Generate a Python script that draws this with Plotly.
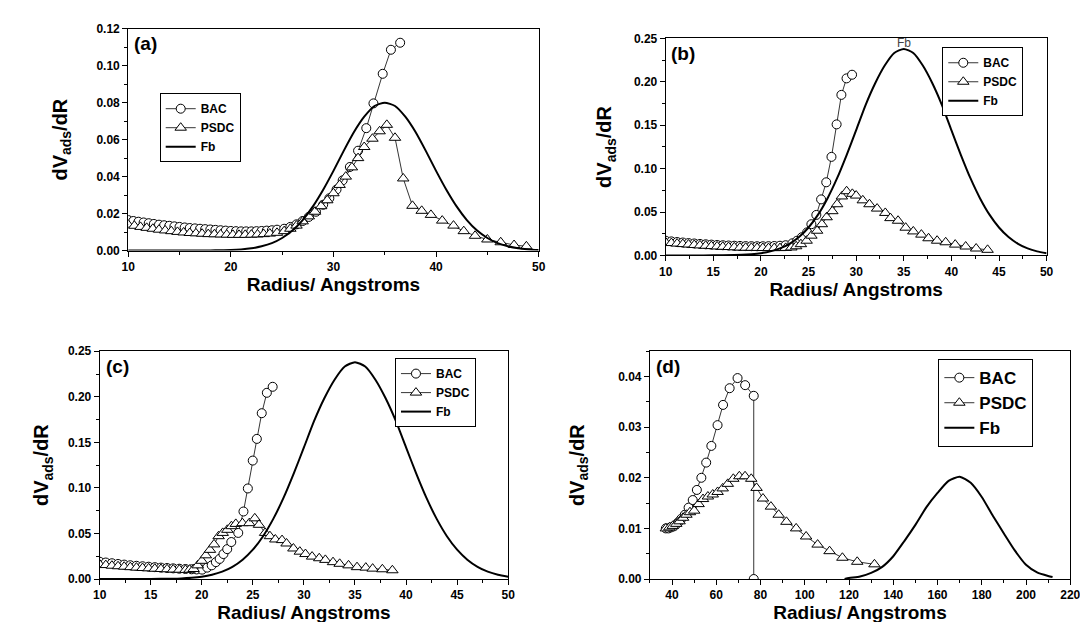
import plotly.graph_objects as go

# ---------------- Panel (a) ----------------
a_bac_x = [10.0, 10.5, 11.0, 11.5, 12.0, 12.5, 13.0, 13.5, 14.0, 14.5, 15.0, 15.5, 16.0, 16.5, 17.0, 17.5, 18.0,
           18.5, 19.0, 19.5, 20.0, 20.5, 21.0, 21.5, 22.0, 22.5, 23.0, 23.5, 24.0, 24.5, 25.2, 25.8, 26.4, 27.0,
           27.6, 28.3, 29.0, 29.6, 30.3, 30.9, 31.6, 32.4, 33.2, 33.9, 34.8, 35.6, 36.5]
a_bac_y = [0.0165, 0.0160, 0.0156, 0.0152, 0.0148, 0.0144, 0.0140, 0.0137, 0.0134, 0.0131, 0.0128, 0.0125, 0.0122,
           0.0120, 0.0118, 0.0116, 0.0114, 0.0112, 0.0110, 0.0108, 0.0106, 0.0105, 0.0104, 0.0104, 0.0104, 0.0105,
           0.0106, 0.0108, 0.0110, 0.0113, 0.0118, 0.0128, 0.0142, 0.0160, 0.0182, 0.0210, 0.0248, 0.0283, 0.0330,
           0.0380, 0.0452, 0.0540, 0.0662, 0.0796, 0.0956, 0.1086, 0.1124]
a_psdc_x = [10.0, 10.6, 11.2, 11.8, 12.4, 13.0, 13.6, 14.2, 14.8, 15.4, 16.0, 16.6, 17.2, 17.8, 18.4, 19.0, 19.6,
            20.2, 20.8, 21.4, 22.0, 22.6, 23.2, 23.8, 24.5, 25.2, 25.8, 26.4, 27.0, 27.6, 28.2, 28.8, 29.4, 30.0,
            30.6, 31.2, 31.8, 32.4, 33.0, 33.8, 34.5, 35.2, 36.0, 36.8, 37.7, 38.6, 39.5, 40.6, 41.7, 42.7, 43.8,
            45.0, 46.3, 47.6, 48.8]
a_psdc_y = [0.0140, 0.0134, 0.0128, 0.0123, 0.0118, 0.0113, 0.0109, 0.0105, 0.0101, 0.0098, 0.0095, 0.0093, 0.0091,
            0.0089, 0.0088, 0.0087, 0.0086, 0.0085, 0.0085, 0.0085, 0.0086, 0.0087, 0.0089, 0.0092, 0.0096, 0.0105,
            0.0118, 0.0135, 0.0158, 0.0185, 0.0210, 0.0240, 0.0272, 0.0310, 0.0355, 0.0400, 0.0450, 0.0500, 0.0560,
            0.0605, 0.0645, 0.0680, 0.0610, 0.0390, 0.0242, 0.0215, 0.0193, 0.0162, 0.0135, 0.0105, 0.0080, 0.0060,
            0.0045, 0.0030, 0.0023]
a_fb_x = [10, 12, 14, 16, 18, 19, 20, 21, 22, 23, 24, 25, 26, 27, 28, 29, 30, 31, 32, 33, 34, 35, 36, 37, 38, 39,
          40, 41, 42, 43, 44, 45, 46, 47, 48, 49, 50]
a_fb_y = [0.0, 0.0, 0.0, 0.0, 0.0001, 0.0002, 0.0003, 0.0006, 0.0012, 0.0023, 0.0040, 0.0068, 0.0108, 0.0165,
          0.0239, 0.0329, 0.0431, 0.0539, 0.0641, 0.0724, 0.0782, 0.0800, 0.0782, 0.0724, 0.0641, 0.0539, 0.0431,
          0.0329, 0.0239, 0.0165, 0.0108, 0.0068, 0.0040, 0.0023, 0.0012, 0.0006, 0.0003]

# ---------------- Panel (b) ----------------
b_bac_x = [10.0, 10.6, 11.2, 11.8, 12.4, 13.0, 13.6, 14.2, 14.8, 15.4, 16.0, 16.6, 17.2, 17.8, 18.4, 19.0, 19.6,
           20.2, 20.8, 21.4, 22.0, 22.6, 23.3, 23.8, 24.3, 24.85, 25.3, 25.82, 26.32, 26.86, 27.41, 27.95, 28.45,
           28.99, 29.57]
b_bac_y = [0.0170, 0.0162, 0.0155, 0.0149, 0.0143, 0.0138, 0.0133, 0.0129, 0.0125, 0.0121, 0.0118, 0.0115, 0.0112,
           0.0110, 0.0108, 0.0107, 0.0106, 0.0106, 0.0107, 0.0109, 0.0112, 0.0118, 0.0140, 0.0170, 0.0210, 0.0266,
           0.0360, 0.0467, 0.0646, 0.0843, 0.1136, 0.1510, 0.1850, 0.2040, 0.2082]
b_psdc_x = [10.0, 10.6, 11.2, 11.8, 12.4, 13.0, 13.6, 14.2, 14.8, 15.4, 16.0, 16.6, 17.2, 17.8, 18.4, 19.0, 19.6,
            20.2, 20.8, 21.4, 22.0, 22.6, 23.2, 23.7, 24.2, 24.8, 25.3, 25.9, 26.4, 26.9, 27.5, 28.0, 28.5, 29.0,
            29.6, 30.0, 30.7, 31.4, 32.2, 33.06, 33.6, 34.4, 35.2, 36.0, 36.85, 37.6, 38.5, 39.4, 40.4, 41.5,
            42.6, 43.8]
b_psdc_y = [0.0150, 0.0143, 0.0137, 0.0131, 0.0126, 0.0121, 0.0116, 0.0112, 0.0108, 0.0104, 0.0100, 0.0097, 0.0094,
            0.0091, 0.0089, 0.0088, 0.0087, 0.0086, 0.0085, 0.0085, 0.0085, 0.0087, 0.0092, 0.0106, 0.0130, 0.0170,
            0.0228, 0.0285, 0.0360, 0.0440, 0.0510, 0.0590, 0.0680, 0.0740, 0.0710, 0.0690, 0.0635, 0.0590, 0.0540,
            0.0490, 0.0430, 0.0400, 0.0320, 0.0277, 0.0240, 0.0198, 0.0170, 0.0152, 0.0125, 0.0103, 0.0080, 0.0065]
b_fb_x = [10, 12, 14, 16, 18, 19, 20, 21, 22, 23, 24, 25, 26, 27, 28, 29, 30, 31, 32, 33, 34, 35, 36, 37, 38, 39,
          40, 41, 42, 43, 44, 45, 46, 47, 48, 49, 50]
b_fb_y = [0.0, 0.0, 0.0001, 0.0002, 0.0007, 0.0014, 0.0026, 0.0047, 0.0081, 0.0134, 0.0212, 0.0322, 0.0470, 0.0660,
          0.0890, 0.1157, 0.1444, 0.1735, 0.1984, 0.2188, 0.2333, 0.2380, 0.2333, 0.2188, 0.1984, 0.1735, 0.1444,
          0.1157, 0.0890, 0.0660, 0.0470, 0.0322, 0.0212, 0.0134, 0.0081, 0.0047, 0.0026]

# ---------------- Panel (c) ----------------
c_bac_x = [10.0, 10.6, 11.2, 11.8, 12.4, 13.0, 13.6, 14.2, 14.8, 15.4, 16.0, 16.6, 17.2, 17.8, 18.4, 19.0, 19.5,
           20.03, 20.53, 20.97, 21.38, 21.75, 22.12, 22.49, 22.89, 23.57, 24.08, 24.51, 24.99, 25.39, 25.87, 26.37,
           26.94]
c_bac_y = [0.0190, 0.0181, 0.0173, 0.0165, 0.0158, 0.0151, 0.0145, 0.0140, 0.0135, 0.0130, 0.0125, 0.0121, 0.0117,
           0.0113, 0.0110, 0.0107, 0.0105, 0.0103, 0.0125, 0.0150, 0.0185, 0.0221, 0.0274, 0.0328, 0.0406, 0.0506,
           0.0741, 0.0994, 0.1300, 0.1538, 0.1820, 0.2044, 0.2110]
c_psdc_x = [10.0, 10.6, 11.2, 11.8, 12.4, 13.0, 13.6, 14.2, 14.8, 15.4, 16.0, 16.6, 17.2, 17.8, 18.4, 18.8, 19.2,
            19.6, 20.0, 20.4, 20.8, 21.2, 21.65, 22.05, 22.5, 22.9, 23.33, 23.98, 24.65, 25.19, 25.6, 26.2, 26.67,
            27.2, 27.86, 28.3, 28.97, 29.6, 30.15, 30.8, 31.5, 32.1, 32.85, 33.5, 34.37, 35.2, 36.06, 36.73, 37.68,
            38.66]
c_psdc_y = [0.0160, 0.0153, 0.0146, 0.0140, 0.0135, 0.0130, 0.0125, 0.0121, 0.0117, 0.0113, 0.0110, 0.0107, 0.0104,
            0.0102, 0.0100, 0.0102, 0.0110, 0.0150, 0.0200, 0.0260, 0.0320, 0.0380, 0.0470, 0.0506, 0.0540, 0.0580,
            0.0605, 0.0613, 0.0613, 0.0666, 0.0595, 0.0506, 0.0470, 0.0434, 0.0427, 0.0390, 0.0335, 0.0300, 0.0274,
            0.0246, 0.0228, 0.0210, 0.0185, 0.0167, 0.0150, 0.0130, 0.0125, 0.0114, 0.0107, 0.0096]
c_fb_x = b_fb_x
c_fb_y = b_fb_y

# ---------------- Panel (d) ----------------
d_bac_x = [37.2, 38.4, 39.5, 40.8, 41.9, 43.0, 44.2, 45.77, 47.48, 49.35, 51.22, 53.25, 55.43, 57.77, 60.57, 63.06,
           66.03, 69.61, 73.04, 76.93, 76.93]
d_bac_y = [0.0100, 0.0100, 0.0102, 0.0104, 0.0108, 0.0113, 0.0119, 0.0127, 0.0141, 0.0156, 0.0176, 0.0200, 0.0230,
           0.0263, 0.0304, 0.0344, 0.0377, 0.0397, 0.0383, 0.0362, 0.0]
d_psdc_x = [37.2, 38.8, 40.3, 41.9, 43.4, 45.0, 46.5, 48.1, 50.0, 52.0, 54.0, 56.2, 58.4, 60.6, 62.9, 65.2, 67.7,
            70.4, 73.0, 75.8, 78.2, 81.1, 84.7, 88.2, 91.7, 96.1, 100.6, 105.8, 111.2, 117.0, 123.7, 131.5]
d_psdc_y = [0.0100, 0.0102, 0.0105, 0.0109, 0.0114, 0.0121, 0.0127, 0.0132, 0.0135, 0.0148, 0.0158, 0.0163, 0.0167,
            0.0172, 0.0179, 0.0188, 0.0198, 0.0203, 0.0203, 0.0198, 0.0180, 0.0159, 0.0143, 0.0127, 0.0113, 0.0100,
            0.0084, 0.0068, 0.0055, 0.0042, 0.0034, 0.0029]
d_fb_x = [118, 120, 125, 130, 135, 140, 145, 150, 155, 160, 165, 170, 175, 180, 185, 190, 195, 200, 205, 210, 212]
d_fb_y = [0.0, 0.0002, 0.0005, 0.0012, 0.0024, 0.0045, 0.0075, 0.0107, 0.0142, 0.0170, 0.0194, 0.0202, 0.0190,
          0.0162, 0.0125, 0.0090, 0.0056, 0.0028, 0.0013, 0.0006, 0.0004]

series_names = ["BAC", "PSDC", "Fb"]
panel_labels = ["(a)", "(b)", "(c)", "(d)"]
x_title = "Radius/ Angstroms"
y_title = "dV<sub>ads</sub>/dR"

FONT = "Arial, Liberation Sans, sans-serif"

panels = [
    dict(bac=(a_bac_x, a_bac_y), psdc=(a_psdc_x, a_psdc_y), fb=(a_fb_x, a_fb_y),
         xr=[10, 50], yr=[0, 0.12], dx=10, mdx=5, dy=0.02, mdy=0.01,
         xd=[115 / 1088, 532 / 1088], yd=[1 - 241 / 622, 1 - 14 / 622],
         leg=(147 / 1088, 1 - 80 / 622), legfont=12, ystand=23, xstand=3),
    dict(bac=(b_bac_x, b_bac_y), psdc=(b_psdc_x, b_psdc_y), fb=(b_fb_x, b_fb_y),
         xr=[10, 50], yr=[0, 0.25], dx=5, mdx=2.5, dy=0.05, mdy=0.025,
         xd=[661 / 1088, 1048 / 1088], yd=[1 - 246 / 622, 1 - 24 / 622],
         leg=(942 / 1088, 1 - 33 / 622), legfont=12, ystand=16, xstand=0),
    dict(bac=(c_bac_x, c_bac_y), psdc=(c_psdc_x, c_psdc_y), fb=(c_fb_x, c_fb_y),
         xr=[10, 50], yr=[0, 0.25], dx=5, mdx=2.5, dy=0.05, mdy=0.025,
         xd=[86 / 1088, 501 / 1088], yd=[1 - 577 / 622, 1 - 344 / 622],
         leg=(386 / 1088, 1 - 351 / 622), legfont=12, ystand=13, xstand=0),
    dict(bac=(d_bac_x, d_bac_y), psdc=(d_psdc_x, d_psdc_y), fb=(d_fb_x, d_fb_y),
         xr=[30, 220], yr=[0, 0.045], dx=20, mdx=10, dy=0.01, mdy=0.005,
         xd=[645 / 1088, 1072 / 1088], yd=[1 - 577 / 622, 1 - 344 / 622],
         leg=(938 / 1088, 1 - 352 / 622), legfont=17, ystand=28, xstand=0),
]

fig = go.Figure()
layout = dict(
    width=1088, height=622, margin=dict(l=0, r=0, t=0, b=0),
    paper_bgcolor="white", plot_bgcolor="white", showlegend=True,
    font=dict(family=FONT, color="black"),
)
annotations = []

for i, p in enumerate(panels):
    n = "" if i == 0 else str(i + 1)
    xa, ya = "x" + n, "y" + n
    lg = "legend" + n
    fig.add_trace(go.Scatter(
        x=p["bac"][0], y=p["bac"][1], name=series_names[0], xaxis=xa, yaxis=ya, legend=lg,
        mode="lines+markers", line=dict(color="black", width=0.8),
        marker=dict(symbol="circle", size=9, color="white", line=dict(width=1, color="black"))))
    fig.add_trace(go.Scatter(
        x=p["psdc"][0], y=p["psdc"][1], name=series_names[1], xaxis=xa, yaxis=ya, legend=lg,
        mode="lines+markers", line=dict(color="black", width=0.8),
        marker=dict(symbol="triangle-up", size=10, color="white", line=dict(width=1, color="black"))))
    fig.add_trace(go.Scatter(
        x=p["fb"][0], y=p["fb"][1], name=series_names[2], xaxis=xa, yaxis=ya, legend=lg,
        mode="lines", line=dict(color="black", width=2, shape="spline", smoothing=0.6)))

    axis_common = dict(
        showline=True, linecolor="black", linewidth=1, mirror=True, showgrid=False, zeroline=False,
        ticks="outside", ticklen=5, tickwidth=1, tickcolor="black",
        tickfont=dict(family=FONT, size=12, color="black", weight="bold"),
    )
    layout["xaxis" + n] = dict(
        axis_common, domain=p["xd"], range=p["xr"], dtick=p["dx"], tick0=0, anchor=ya,
        minor=dict(ticks="outside", ticklen=3, dtick=p["mdx"], tickcolor="black"),
        title=dict(text=x_title, font=dict(family=FONT, size=19, weight="bold"), standoff=p["xstand"]),
    )
    layout["yaxis" + n] = dict(
        axis_common, domain=p["yd"], range=p["yr"], dtick=p["dy"], tick0=0, anchor=xa,
        tickformat=".2f",
        minor=dict(ticks="outside", ticklen=3, dtick=p["mdy"], tickcolor="black"),
        title=dict(text=y_title, font=dict(family=FONT, size=20, weight="bold"), standoff=p["ystand"]),
    )
    layout[lg] = dict(
        x=p["leg"][0], y=p["leg"][1], xanchor="left", yanchor="top", xref="paper", yref="paper",
        bgcolor="white", bordercolor="black", borderwidth=1,
        font=dict(family=FONT, size=p["legfont"], weight="bold", color="black"),
        tracegroupgap=0, itemwidth=30,
    )
    annotations.append(dict(
        text=panel_labels[i], xref=xa + " domain", yref=ya + " domain", x=0.01, y=0.99,
        xanchor="left", yanchor="top", showarrow=False,
        font=dict(family=FONT, size=19, weight="bold", color="black")))

annotations.append(dict(text="Fb", xref="x2", yref="y2", x=35, y=0.238, yanchor="bottom", showarrow=False,
                        font=dict(family=FONT, size=12, color="#444444"), yshift=-3))
layout["annotations"] = annotations
fig.update_layout(**layout)
fig.write_html("out.html")
